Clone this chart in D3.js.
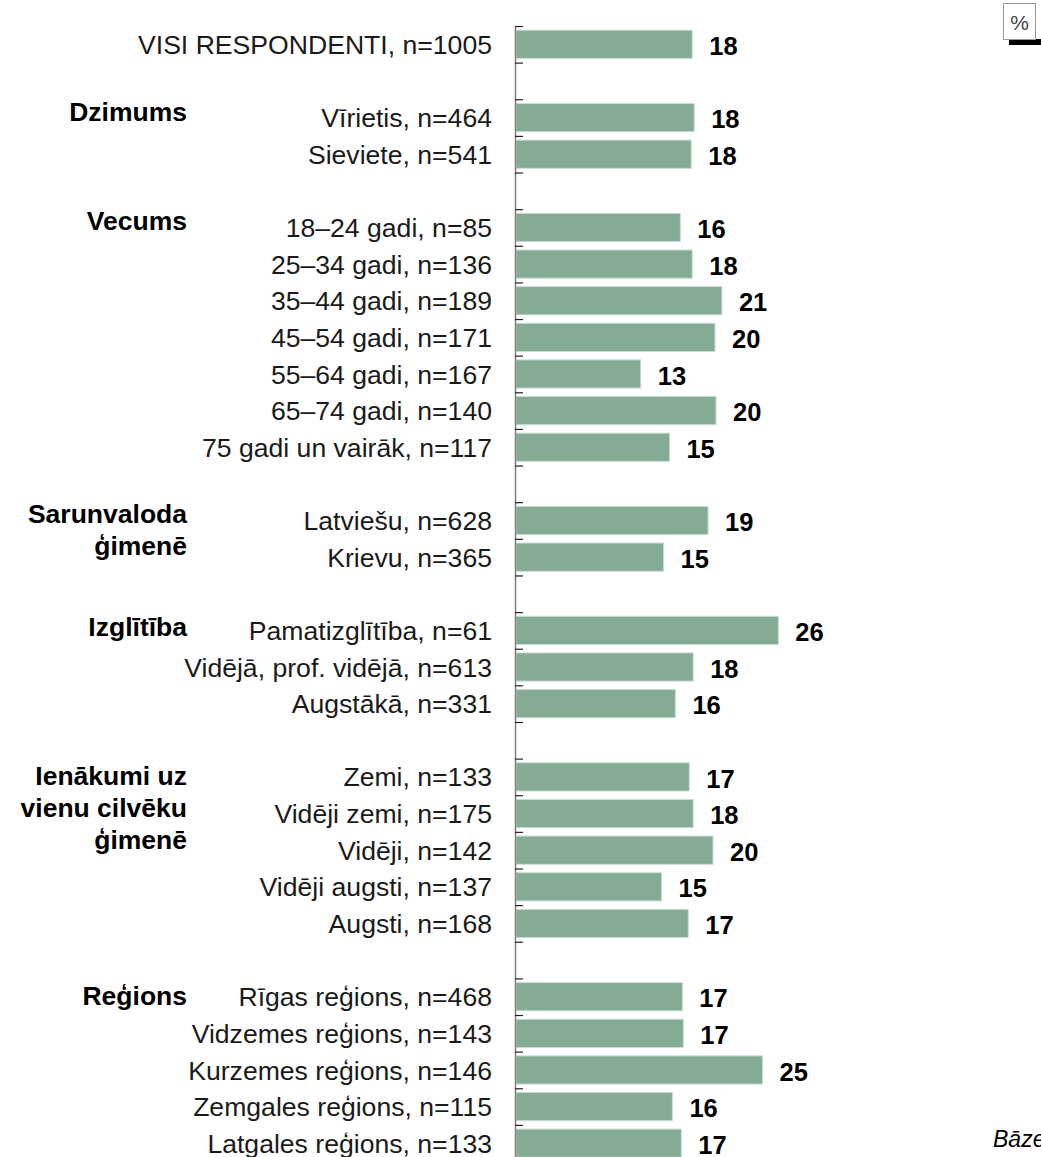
<!DOCTYPE html>
<html><head><meta charset="utf-8">
<script src="https://cdn.jsdelivr.net/npm/d3@7"></script>
<style>body{margin:0;background:#fff;}svg{display:block;font-family:"Liberation Sans",Arial,sans-serif;}</style>
</head><body>
<svg id="c" width="1041" height="1157"></svg>
<script>
const categories = [
  "VISI RESPONDENTI, n=1005", "",
  "Vīrietis, n=464", "Sieviete, n=541", "",
  "18–24 gadi, n=85", "25–34 gadi, n=136", "35–44 gadi, n=189", "45–54 gadi, n=171",
  "55–64 gadi, n=167", "65–74 gadi, n=140", "75 gadi un vairāk, n=117", "",
  "Latviešu, n=628", "Krievu, n=365", "",
  "Pamatizglītība, n=61", "Vidējā, prof. vidējā, n=613", "Augstākā, n=331", "",
  "Zemi, n=133", "Vidēji zemi, n=175", "Vidēji, n=142", "Vidēji augsti, n=137", "Augsti, n=168", "",
  "Rīgas reģions, n=468", "Vidzemes reģions, n=143", "Kurzemes reģions, n=146", "Zemgales reģions, n=115", "Latgales reģions, n=133"
];
const values = [
  17.9, null,
  18.1, 17.8, null,
  16.7, 17.9, 20.9, 20.2, 12.7, 20.3, 15.6, null,
  19.5, 15.0, null,
  26.6, 18.0, 16.2, null,
  17.6, 18.0, 20.0, 14.8, 17.5, null,
  16.9, 17.0, 25.0, 15.9, 16.8
];
const valueLabels = [
  "18", "",
  "18", "18", "",
  "16", "18", "21", "20", "13", "20", "15", "",
  "19", "15", "",
  "26", "18", "16", "",
  "17", "18", "20", "15", "17", "",
  "17", "17", "25", "16", "17"
];
const groupTitles = [
  {row: 2, lines: ["Dzimums"]},
  {row: 5, lines: ["Vecums"]},
  {row: 13, lines: ["Sarunvaloda", "ģimenē"]},
  {row: 16, lines: ["Izglītība"]},
  {row: 20, lines: ["Ienākumi uz", "vienu cilvēku", "ģimenē"]},
  {row: 26, lines: ["Reģions"]}
];
const unitLabel = "%";
const baseNote = "Bāze: visi respondenti";

const svg = d3.select("#c");
const axisX = 515;
const y0 = 26, step = 36.63;
const n = categories.length;
const rows = d3.range(n);
const y = d3.scaleBand().domain(rows).range([y0, y0 + n * step]).paddingInner(0.23).paddingOuter(0.115);
const x = d3.scaleLinear().domain([0, 30]).range([axisX, axisX + 297]);
const yb = d3.scaleLinear().domain([0, n]).range([y0, y0 + n * step]);

// bars
const data = rows.filter(i => values[i] != null);
svg.append("g").selectAll("rect").data(data).join("rect")
  .attr("x", x(0) + 1)
  .attr("y", i => y(i))
  .attr("width", i => x(values[i]) - x(0) - 1)
  .attr("height", y.bandwidth())
  .attr("fill", "#84ab94")
  .attr("stroke", "#c9ddd0")
  .attr("stroke-width", 1);

// axis
const ax = svg.append("g").attr("transform", `translate(${axisX},0)`)
  .call(d3.axisRight(yb).tickValues(d3.range(n + 1)).tickFormat("").tickSize(8).tickSizeOuter(0));
ax.select(".domain").attr("stroke", "#7f7f7f").attr("stroke-width", 1.5);
ax.selectAll(".tick line").attr("stroke", "#222").attr("stroke-width", 1.2);

// category labels
svg.append("g").selectAll("text").data(rows.filter(i => categories[i])).join("text")
  .attr("x", 492)
  .attr("y", i => y(i) + y.bandwidth() / 2)
  .attr("dy", "0.36em")
  .attr("text-anchor", "end")
  .attr("font-size", 26.6)
  .attr("fill", "#1a1a1a")
  .text(i => categories[i]);

// value labels
svg.append("g").selectAll("text").data(data).join("text")
  .attr("x", i => x(values[i]) + 17)
  .attr("y", i => y(i) + y.bandwidth() / 2 + 1.5)
  .attr("dy", "0.36em")
  .attr("font-size", 25.5)
  .attr("font-weight", "bold")
  .attr("fill", "#000")
  .text(i => valueLabels[i]);

// group titles
const titleShift = [-6, -7.5, -7, -4, -1.5, -1];
const gt = svg.append("g").selectAll("text").data(groupTitles).join("text")
  .attr("x", 187)
  .attr("y", (d, k) => y(d.row) + y.bandwidth() / 2 + titleShift[k])
  .attr("text-anchor", "end")
  .attr("font-size", 26.5)
  .attr("font-weight", "bold")
  .attr("fill", "#000");
gt.selectAll("tspan").data(d => d.lines).join("tspan")
  .attr("x", 187)
  .attr("dy", (d, i) => i === 0 ? "0.36em" : 32)
  .text(d => d);

// unit box
svg.append("rect").attr("x", 1009).attr("y", 39).attr("width", 40).attr("height", 6).attr("fill", "#000");
svg.append("rect").attr("x", 1003.5).attr("y", 3.5).attr("width", 32).attr("height", 36)
  .attr("fill", "#fff").attr("stroke", "#999").attr("stroke-width", 1);
svg.append("text").attr("x", 1019.5).attr("y", 30).attr("text-anchor", "middle")
  .attr("font-size", 21).attr("fill", "#444").text(unitLabel);

// base note
svg.append("text").attr("x", 993).attr("y", 1147).attr("font-size", 23)
  .attr("font-style", "italic").attr("fill", "#000").text(baseNote);
</script>
</body></html>
